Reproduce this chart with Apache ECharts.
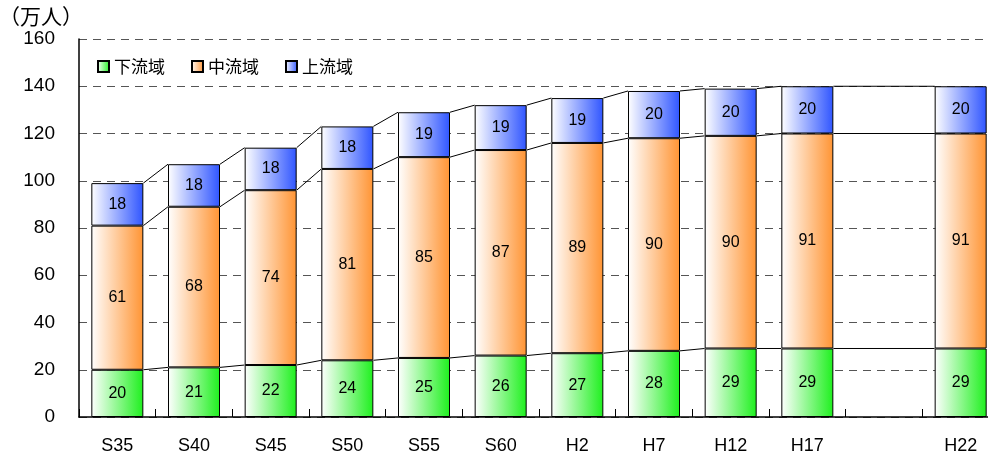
<!DOCTYPE html>
<html>
<head>
<meta charset="utf-8">
<script src="https://cdn.jsdelivr.net/npm/echarts@6/dist/echarts.min.js"></script>
<style>
  html, body { margin: 0; padding: 0; background: #fff; }
</style>
</head>
<body>
<div id="chart" style="width:988px;height:462px;"></div>
<script>
// 年次（H17とH22の間は空き）
var categories = ["S35", "S40", "S45", "S50", "S55", "S60", "H2", "H7", "H12", "H17", "", "H22"];
var lower = [20, 21, 22, 24, 25, 26, 27, 28, 29, 29, null, 29];   // 下流域
var middle = [61, 68, 74, 81, 85, 87, 89, 90, 90, 91, null, 91];  // 中流域
var upper = [18, 18, 18, 18, 19, 19, 19, 20, 20, 20, null, 20];   // 上流域
var yTicks = [0, 20, 40, 60, 80, 100, 120, 140, 160];

var BAR_W = 52;

function grad(c) {
  return new echarts.graphic.LinearGradient(0, 0, 1, 0, [
    { offset: 0, color: "#ffffff" },
    { offset: 1, color: c }
  ]);
}

// 区分線用データ：隣り合う棒の各段の上端
var linkData = [];
var prev = -1;
for (var i = 0; i < categories.length; i++) {
  if (lower[i] == null) continue;
  if (prev >= 0) {
    var a = lower[prev], b = lower[i];
    var a2 = a + middle[prev], b2 = b + middle[i];
    var a3 = a2 + upper[prev], b3 = b2 + upper[i];
    linkData.push([prev, a, i, b, a2, b2, a3, b3]);
  }
  prev = i;
}

function barSeries(name, data, color) {
  return {
    name: name,
    type: "bar",
    stack: "total",
    barWidth: BAR_W,
    data: data,
    itemStyle: { color: grad(color), borderColor: "#000", borderWidth: 1 },
    label: {
      show: true,
      position: "inside",
      color: "#000",
      fontSize: 16,
      fontFamily: "Liberation Sans, Arial, sans-serif"
    }
  };
}

var chart = echarts.init(document.getElementById("chart"));
var option = {
  animation: false,
  title: {
    text: "（万人）",
    left: -6,
    top: 1,
    textStyle: { fontSize: 21, fontWeight: "normal", color: "#000", fontFamily: "Noto Sans CJK JP, sans-serif" }
  },
  legend: {
    left: 92,
    top: 53,
    itemWidth: 11,
    itemHeight: 11,
    itemGap: 26,
    icon: "rect",
    data: ["下流域", "中流域", "上流域"],
    textStyle: { fontSize: 17, color: "#000", fontFamily: "Noto Sans CJK JP, sans-serif" }
  },
  grid: { left: 79, width: 920, top: 39, bottom: 45, outerBoundsMode: "none", containLabel: false },
  xAxis: {
    type: "category",
    data: categories,
    axisLine: { lineStyle: { color: "#000", width: 1.5 } },
    axisTick: { show: true, interval: 0, inside: true, length: 8, lineStyle: { color: "#000", width: 1 } },
    axisLabel: { interval: 0, fontSize: 18, color: "#000", margin: 20, fontFamily: "Liberation Sans, Arial, sans-serif" }
  },
  yAxis: {
    type: "value",
    min: yTicks[0],
    max: yTicks[yTicks.length - 1],
    interval: 20,
    axisLine: { show: true, lineStyle: { color: "#000", width: 1.5 } },
    axisTick: { show: false },
    axisLabel: { fontSize: 19, color: "#000", margin: 24, fontFamily: "Liberation Sans, Arial, sans-serif" },
    splitLine: { lineStyle: { color: "#555", type: [8, 6], width: 1 } }
  },
  series: [
    barSeries("下流域", lower, "#1ef01e"),
    barSeries("中流域", middle, "#ff9433"),
    barSeries("上流域", upper, "#2f55ff"),
    {
      type: "custom",
      silent: true,
      z: 1,
      data: linkData,
      encode: { x: 0, y: 1 },
      renderItem: function (params, api) {
        var half = BAR_W / 2;
        var i0 = api.value(0), i1 = api.value(2);
        var pairs = [[api.value(1), api.value(3)], [api.value(4), api.value(5)], [api.value(6), api.value(7)]];
        var children = pairs.map(function (p) {
          var s = api.coord([i0, p[0]]);
          var e = api.coord([i1, p[1]]);
          return {
            type: "line",
            shape: { x1: s[0] + half, y1: s[1], x2: e[0] - half, y2: e[1] },
            style: { stroke: "#000", lineWidth: 1 }
          };
        });
        return { type: "group", children: children };
      }
    }
  ]
};
chart.setOption(option);
window.addEventListener("resize", function () { chart.resize(); });
</script>
</body>
</html>
